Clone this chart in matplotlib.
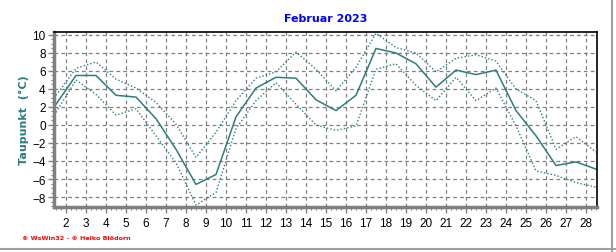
from matplotlib import pyplot as plt
from matplotlib.lines import Line2D
from matplotlib.ticker import MultipleLocator

# days (values are plotted at midday)
days = [d + 0.5 for d in range(1, 29)]
dew_mean = [2.3, 5.5, 5.5, 3.3, 3.1, 0.7, -2.7, -6.6, -5.5, 0.9, 4.1, 5.3, 5.2, 2.8,
            1.6, 3.3, 8.5, 8.0, 6.8, 4.2, 6.1, 5.6, 6.1, 1.6, -1.2, -4.5, -4.1, -4.9]
dew_max = [3.3, 6.3, 7.0, 5.1, 4.1, 2.5, 0.1, -3.6, -0.8, 2.7, 5.2, 5.9, 8.1, 6.2,
           3.8, 6.4, 10.2, 8.6, 8.0, 5.9, 7.4, 7.8, 7.1, 4.0, 2.7, -2.7, -1.3, -3.0]
dew_min = [1.4, 5.0, 3.4, 1.1, 1.8, -1.2, -4.2, -8.9, -7.5, -0.4, 2.7, 4.7, 2.3, 0.0,
           -0.6, -0.1, 6.2, 6.8, 4.4, 2.7, 5.3, 2.7, 4.1, -0.1, -5.1, -5.6, -6.4, -6.9]
x_ticks = list(range(2, 29))
y_ticks = list(range(-8, 11, 2))

teal = '#2e7d7d'

fig = plt.figure(figsize=(6.16, 2.53), dpi=100)
ax = fig.add_axes([54/616, 1-208/253, (597-54)/616, (208-33)/253])

ax.plot(days, dew_max, color=teal, linestyle=(0, (1, 1.5)), linewidth=1)
ax.plot(days, dew_min, color=teal, linestyle=(0, (1, 1.5)), linewidth=1)
ax.plot(days, dew_mean, color=teal, linewidth=1.1)

ax.set_xlim(1.4, 28.55)
ax.set_ylim(-9.11, 10.33)
ax.set_xticks(x_ticks)
ax.set_yticks(y_ticks)
ax.xaxis.set_minor_locator(MultipleLocator(0.25))
ax.yaxis.set_minor_locator(MultipleLocator(0.5))
ax.grid(True, which='major', color='#808080', linestyle=(0, (3, 2.5)), linewidth=0.9)

for s in ['left', 'bottom']:
    ax.spines[s].set_color('#808080')
    ax.spines[s].set_linewidth(2.5)
for s in ['top', 'right']:
    ax.spines[s].set_color('black')
    ax.spines[s].set_linewidth(1.2)

ax.tick_params(which='major', length=4, width=1, color='#808080', labelsize=8.5, pad=2)
ax.tick_params(which='minor', length=2.5, width=0.8, color='#808080')
ax.tick_params(axis='x', pad=3)
for lab in ax.get_xticklabels() + ax.get_yticklabels():
    lab.set_fontfamily('Liberation Sans')

ax.set_title('Februar 2023', color='#0000ff', fontsize=8, fontweight='bold', pad=8)
ax.set_ylabel('Taupunkt  (°C)', color=teal, fontsize=8, fontweight='bold', labelpad=2)

fig.text(22/616, 1-239/253, '© WsWin32 - © Heiko Blödorn', color='red', fontsize=4.6,
         fontweight='bold', va='center', ha='left')

# outer frame lines (right and bottom)
fig.add_artist(Line2D([612/616, 612/616], [0, 1], color='#a0a0a0', linewidth=1.5))
fig.add_artist(Line2D([0, 1], [1-250/253, 1-250/253], color='#a0a0a0', linewidth=1.5))

fig.savefig('out.png', dpi=100)
